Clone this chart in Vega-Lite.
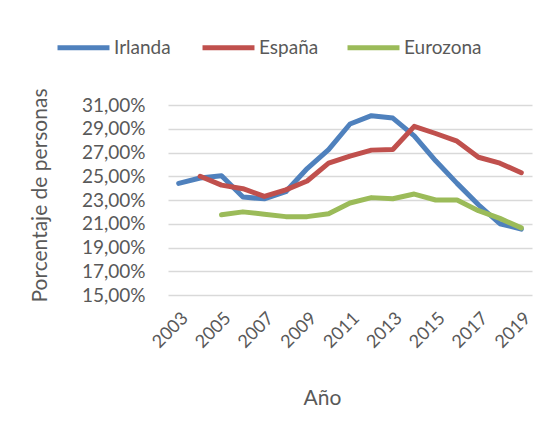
{
  "$schema": "https://vega.github.io/schema/vega-lite/v6.json",
  "autosize": "none",
  "width": 364,
  "height": 190,
  "padding": {"left": 168, "top": 105, "right": 19, "bottom": 130},
  "background": "white",
  "config": {
    "font": "Lato",
    "view": {"stroke": null}
  },
  "data": {
    "values": [
      {"Año": 2003, "Serie": "Irlanda", "Valor": 24.4},
      {"Año": 2004, "Serie": "Irlanda", "Valor": 24.85},
      {"Año": 2005, "Serie": "Irlanda", "Valor": 25.05},
      {"Año": 2006, "Serie": "Irlanda", "Valor": 23.25},
      {"Año": 2007, "Serie": "Irlanda", "Valor": 23.1},
      {"Año": 2008, "Serie": "Irlanda", "Valor": 23.7},
      {"Año": 2009, "Serie": "Irlanda", "Valor": 25.65},
      {"Año": 2010, "Serie": "Irlanda", "Valor": 27.25},
      {"Año": 2011, "Serie": "Irlanda", "Valor": 29.4},
      {"Año": 2012, "Serie": "Irlanda", "Valor": 30.1},
      {"Año": 2013, "Serie": "Irlanda", "Valor": 29.9},
      {"Año": 2014, "Serie": "Irlanda", "Valor": 28.4},
      {"Año": 2015, "Serie": "Irlanda", "Valor": 26.3},
      {"Año": 2016, "Serie": "Irlanda", "Valor": 24.4},
      {"Año": 2017, "Serie": "Irlanda", "Valor": 22.6},
      {"Año": 2018, "Serie": "Irlanda", "Valor": 21.0},
      {"Año": 2019, "Serie": "Irlanda", "Valor": 20.55},
      {"Año": 2004, "Serie": "España", "Valor": 25.0},
      {"Año": 2005, "Serie": "España", "Valor": 24.25},
      {"Año": 2006, "Serie": "España", "Valor": 23.95},
      {"Año": 2007, "Serie": "España", "Valor": 23.3},
      {"Año": 2008, "Serie": "España", "Valor": 23.85},
      {"Año": 2009, "Serie": "España", "Valor": 24.6},
      {"Año": 2010, "Serie": "España", "Valor": 26.1},
      {"Año": 2011, "Serie": "España", "Valor": 26.7},
      {"Año": 2012, "Serie": "España", "Valor": 27.2},
      {"Año": 2013, "Serie": "España", "Valor": 27.25},
      {"Año": 2014, "Serie": "España", "Valor": 29.2},
      {"Año": 2015, "Serie": "España", "Valor": 28.6},
      {"Año": 2016, "Serie": "España", "Valor": 27.95},
      {"Año": 2017, "Serie": "España", "Valor": 26.6},
      {"Año": 2018, "Serie": "España", "Valor": 26.1},
      {"Año": 2019, "Serie": "España", "Valor": 25.3},
      {"Año": 2005, "Serie": "Eurozona", "Valor": 21.75},
      {"Año": 2006, "Serie": "Eurozona", "Valor": 22.0},
      {"Año": 2007, "Serie": "Eurozona", "Valor": 21.8},
      {"Año": 2008, "Serie": "Eurozona", "Valor": 21.6},
      {"Año": 2009, "Serie": "Eurozona", "Valor": 21.6},
      {"Año": 2010, "Serie": "Eurozona", "Valor": 21.85},
      {"Año": 2011, "Serie": "Eurozona", "Valor": 22.75},
      {"Año": 2012, "Serie": "Eurozona", "Valor": 23.2},
      {"Año": 2013, "Serie": "Eurozona", "Valor": 23.1},
      {"Año": 2014, "Serie": "Eurozona", "Valor": 23.5},
      {"Año": 2015, "Serie": "Eurozona", "Valor": 23.0},
      {"Año": 2016, "Serie": "Eurozona", "Valor": 23.0},
      {"Año": 2017, "Serie": "Eurozona", "Valor": 22.1},
      {"Año": 2018, "Serie": "Eurozona", "Valor": 21.45},
      {"Año": 2019, "Serie": "Eurozona", "Valor": 20.65}
    ]
  },
  "mark": {"type": "line", "strokeWidth": 5, "strokeCap": "round", "strokeJoin": "round"},
  "encoding": {
    "x": {
      "field": "Año",
      "type": "ordinal",
      "scale": {"padding": 0.5},
      "axis": {
        "values": [2003, 2005, 2007, 2009, 2011, 2013, 2015, 2017, 2019],
        "labelAngle": -45,
        "labelAlign": "right",
        "labelBaseline": "top",
        "labelFontSize": 18,
        "labelColor": "#595959",
        "labelPadding": 14,
        "ticks": false,
        "domain": false,
        "grid": false,
        "title": "Año",
        "titleFontSize": 21,
        "titleFontWeight": "normal",
        "titleColor": "#595959",
        "titleX": 154,
        "titleY": 103,
        "titleBaseline": "middle",
        "titleAnchor": null
      }
    },
    "y": {
      "field": "Valor",
      "type": "quantitative",
      "scale": {"domain": [15, 31], "nice": false, "zero": false},
      "axis": {
        "values": [15, 17, 19, 21, 23, 25, 27, 29, 31],
        "labelExpr": "replace(format(datum.value, '.2f'), '.', ',') + '%'",
        "labelFontSize": 19,
        "labelColor": "#595959",
        "labelPadding": 23,
        "ticks": false,
        "domain": false,
        "grid": true,
        "gridColor": "#D9D9D9",
        "gridWidth": 1.5,
        "title": "Porcentaje de personas",
        "titleFontSize": 21,
        "titleFontWeight": "normal",
        "titleColor": "#595959",
        "titleX": -128,
        "titleY": 90,
        "titleAngle": -90,
        "titleAlign": "center",
        "titleBaseline": "middle"
      }
    },
    "color": {
      "field": "Serie",
      "type": "nominal",
      "sort": ["Irlanda", "España", "Eurozona"],
      "scale": {"domain": ["Irlanda", "España", "Eurozona"], "range": ["#4F81BD", "#C0504D", "#9BBB59"]},
      "legend": {
        "title": null,
        "orient": "none",
        "legendX": -113,
        "legendY": -86,
        "direction": "horizontal",
        "columns": 3,
        "gridAlign": "all",
        "symbolType": "stroke",
        "symbolSize": 2700,
        "symbolStrokeWidth": 5,
        "labelFontSize": 19,
        "labelColor": "#595959",
        "labelOffset": 2,
        "columnPadding": 0
      }
    }
  }
}
